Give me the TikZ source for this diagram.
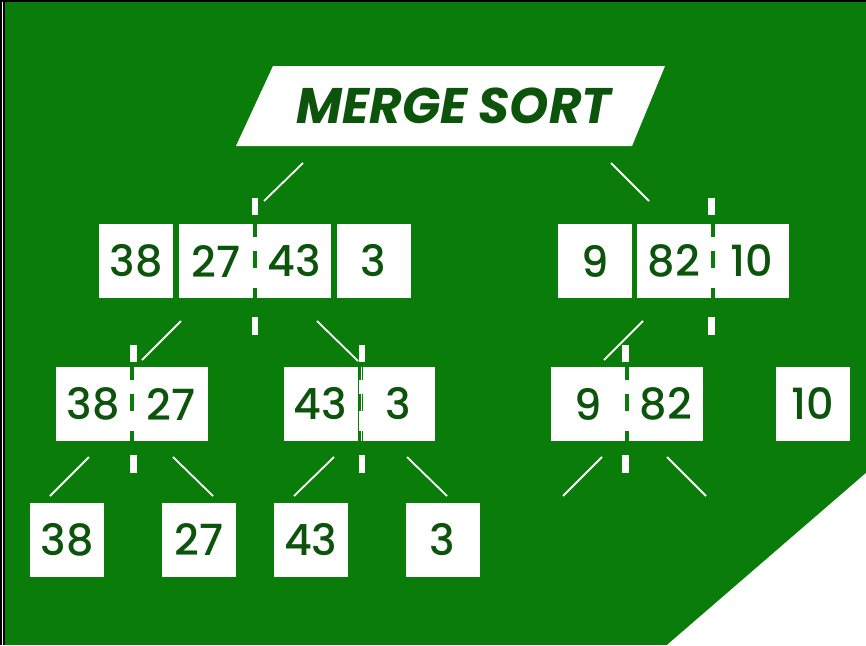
\documentclass[tikz,border=0pt]{standalone}
\usepackage{fontspec}
\newfontfamily\popfont{Poppins}[UprightFont=* Medium]
\newfontfamily\headfont{Poppins}
\usetikzlibrary{calc}

\definecolor{bggreen}{RGB}{10,124,10}
\definecolor{inkgreen}{RGB}{12,84,12}

\tikzset{
	cell/.style={fill=white,minimum width=74pt,minimum height=74pt,inner sep=0pt,
		text=inkgreen,font=\popfont\fontsize{43}{43}\selectfont},
	link/.style={draw=white,line width=1.8pt},
	split/.style 2 args={white,line width=6.6pt,
		dash pattern=on 17pt off #1 on 14pt off 17pt on 20pt off #2 on 18pt,
		preaction={draw=bggreen,solid}}
}

\begin{document}
\begin{tikzpicture}[x=1pt,y=-1pt]

	\useasboundingbox (0,0) rectangle (866,645);

	% background
	\fill[bggreen] (0,0) rectangle (866,645);
	\fill[white] (667,645) -- (866,473) -- (866,645) -- cycle;
	\fill[black] (0,0) rectangle (866,1.5);
	\fill[black] (0,0) rectangle (4.5,645);
	\draw[white,line width=0.8pt] (2,1.5) -- (2,645);

	% banner
	\fill[white] (273,66) -- (665,66) -- (632,146) -- (236,146) -- cycle;
	\node[text=inkgreen,font=\headfont\bfseries\itshape\fontsize{50}{50}\selectfont]
		(title) at (454,106) {MERGE SORT};

	% boxes
	\foreach \v/\x in {38/136,27/216,43/294,3/373.5,9/595,82/674,10/752} {
		\node[cell] (a\v) at (\x,261) {\v};
	}
	\foreach \v/\x in {38/93,27/171,43/320.5,3/398,9/588,82/666,10/813} {
		\node[cell] (b\v) at (\x,404) {\v};
	}
	\foreach \v/\x in {38/67,27/199,43/310.7,3/442.7} {
		\node[cell] (c\v) at (\x,539.5) {\v};
	}

	% split marks
	\draw[split={22pt}{29pt}] (255,198) -- (255,335);
	\draw[split={22pt}{29pt}] (711.5,198) -- (711.5,335);
	\foreach \x in {133.5,362,625.5} {
		\draw[split={18pt}{24pt}] (\x,345) -- (\x,473);
	}

	% connectors
	\coordinate (tl1) at (303,163);   \coordinate (tl2) at (264,201);
	\coordinate (tr1) at (611,163);   \coordinate (tr2) at (649,201);
	\coordinate (al1) at (181,321);   \coordinate (al2) at (142,360);
	\coordinate (am1) at (317,321);   \coordinate (am2) at (358,361);
	\coordinate (ar1) at (643,321);   \coordinate (ar2) at (604,360);
	\coordinate (bl1) at (89,457);    \coordinate (bl2) at (50,496);
	\coordinate (bm1) at (173,457);   \coordinate (bm2) at (213,496);
	\coordinate (bn1) at (334,457);   \coordinate (bn2) at (294,496);
	\coordinate (bo1) at (407,457);   \coordinate (bo2) at (447,496);
	\coordinate (bp1) at (602,457);   \coordinate (bp2) at (563,496);
	\coordinate (bq1) at (667,457);   \coordinate (bq2) at (706,496);
	\foreach \c in {tl,tr,al,am,ar,bl,bm,bn,bo,bp,bq} {
		\draw[link] (\c1) -- (\c2);
	}

\end{tikzpicture}
\end{document}
